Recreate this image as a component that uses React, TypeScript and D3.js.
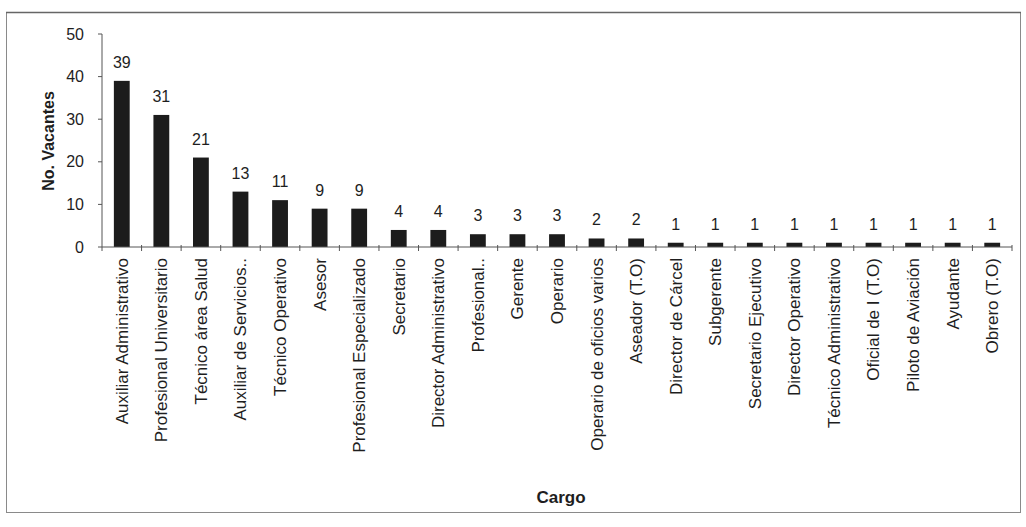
import React from "react";
import * as d3 from "d3";

const categories = [
  "Auxiliar Administrativo",
  "Profesional Universitario",
  "Técnico área Salud",
  "Auxiliar de Servicios..",
  "Técnico Operativo",
  "Asesor",
  "Profesional Especializado",
  "Secretario",
  "Director Administrativo",
  "Profesional..",
  "Gerente",
  "Operario",
  "Operario de oficios varios",
  "Aseador (T.O)",
  "Director de Cárcel",
  "Subgerente",
  "Secretario Ejecutivo",
  "Director Operativo",
  "Técnico Administrativo",
  "Oficial de I (T.O)",
  "Piloto de Aviación",
  "Ayudante",
  "Obrero (T.O)",
];
const values = [39, 31, 21, 13, 11, 9, 9, 4, 4, 3, 3, 3, 2, 2, 1, 1, 1, 1, 1, 1, 1, 1, 1];
const yTicks = [0, 10, 20, 30, 40, 50];

const W = 1026;
const H = 527;
const left = 102;
const right = 1012;
const top = 34;
const bottom = 247;

export default function App() {
  const x = d3.scaleBand<string>().domain(categories).range([left, right]).paddingInner(0.6).paddingOuter(0.3);
  const xStep = d3.scaleBand<string>().domain(categories).range([left, right]).padding(0);
  const y = d3.scaleLinear().domain([0, 50]).range([bottom, top]);
  const font = "'Liberation Sans', Arial, sans-serif";
  const ink = "#1e1e1e";
  return (
    <svg width={W} height={H} style={{ position: "absolute", left: 0, top: 0, background: "#fff" }} fontFamily={font}>
      <rect x={6.5} y={12.5} width={1014} height={500} fill="none" stroke="#8a8a8a" strokeWidth={1} />
      <line x1={6} x2={1021} y1={12.5} y2={12.5} stroke="#666" strokeWidth={1.5} />
      {/* y axis */}
      <line x1={left} x2={left} y1={top} y2={bottom} stroke="#555" />
      {yTicks.map((t) => (
        <g key={t}>
          <line x1={left - 4} x2={left} y1={y(t)} y2={y(t)} stroke="#555" />
          <text x={left - 18} y={y(t)} dy="0.35em" textAnchor="end" fontSize={16} fill={ink}>
            {t}
          </text>
        </g>
      ))}
      <text
        transform={`translate(${54},${141}) rotate(-90)`}
        textAnchor="middle"
        fontSize={16}
        fontWeight="bold"
        fill={ink}
      >
        No. Vacantes
      </text>
      {/* bars */}
      {categories.map((c, i) => (
        <g key={c}>
          <rect x={x(c)} y={y(values[i])} width={x.bandwidth()} height={bottom - y(values[i])} fill="#1c1c1c" />
          <text x={x(c)! + x.bandwidth() / 2} y={y(values[i]) - 13} textAnchor="middle" fontSize={16} fill={ink}>
            {values[i]}
          </text>
        </g>
      ))}
      {/* x axis */}
      <line x1={left} x2={right} y1={bottom} y2={bottom} stroke="#555" />
      {categories.map((c) => (
        <line key={"t" + c} x1={xStep(c)! + xStep.bandwidth()} x2={xStep(c)! + xStep.bandwidth()} y1={bottom - 2} y2={bottom + 4} stroke="#555" />
      ))}
      <line x1={left} x2={left} y1={bottom} y2={bottom + 4} stroke="#555" />
      {categories.map((c) => (
        <text
          key={"l" + c}
          transform={`translate(${xStep(c)! + xStep.bandwidth() / 2},${258}) rotate(-90)`}
          textAnchor="end"
          dy="0.35em"
          fontSize={17}
          fill={ink}
        >
          {c}
        </text>
      ))}
      <text x={561} y={503} textAnchor="middle" fontSize={17} fontWeight="bold" fill={ink}>
        Cargo
      </text>
    </svg>
  );
}
